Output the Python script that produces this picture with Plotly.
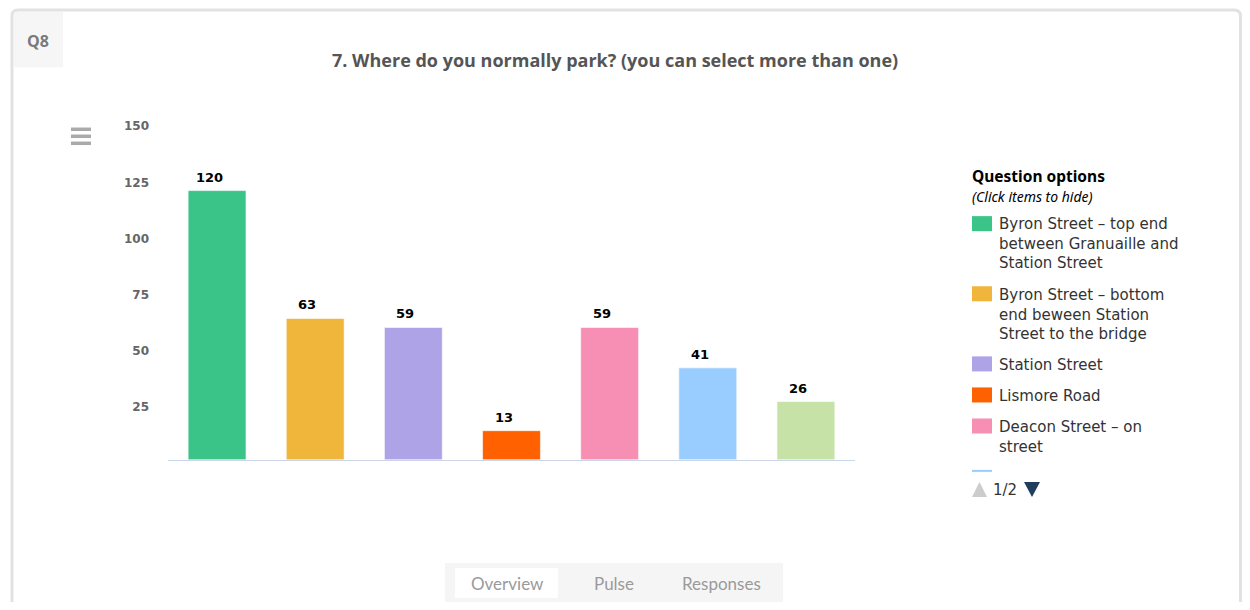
import plotly.graph_objects as go

# ---- data ----
categories = [
    "Byron Street – top end between Granuaille and Station Street",
    "Byron Street – bottom end beween Station Street to the bridge",
    "Station Street",
    "Lismore Road",
    "Deacon Street – on street",
    "Option 6",
    "Option 7",
]
legend_lines = [
    ["Byron Street – top end", "between Granuaille and", "Station Street"],
    ["Byron Street – bottom", "end beween Station", "Street to the bridge"],
    ["Station Street"],
    ["Lismore Road"],
    ["Deacon Street – on", "street"],
]
values = [120, 63, 59, 13, 59, 41, 26]
colors = ["#3BC488", "#F0B53B", "#AEA3E7", "#FF6000", "#F78FB4", "#99CCFF", "#C7E2A6"]
y_ticks = [25, 50, 75, 100, 125, 150]
title_text = "7. Where do you normally park? (you can select more than one)"
tabs = ["Overview", "Pulse", "Responses"]

# page body has an 8px margin; keep the figure inside the window so no scrollbars appear
OFF = 8
W, H = 1250 - 2 * OFF, 610 - 2 * OFF
def px(x):
    return (x - OFF) / W
def py(y):
    yc = (y - 5) / 0.9915   # mild vertical correction of the captured page
    return 1 - (yc - OFF) / H

fig = go.Figure()
for i, (c, v) in enumerate(zip(categories, values)):
    fig.add_trace(go.Bar(
        x=[c], y=[v], marker=dict(color=colors[i], line=dict(color="rgba(255,255,255,0.6)", width=1)),
        width=0.59, showlegend=False, hoverinfo="x+y",
    ))

fig.update_layout(
    width=W, height=H, margin=dict(l=0, r=0, t=0, b=0),
    paper_bgcolor="white", plot_bgcolor="white",
    barmode="overlay", bargap=0.41,
    xaxis=dict(domain=[px(168), px(855)], showticklabels=False, showgrid=False,
               showline=True, linecolor="#CCD6EB", linewidth=1, zeroline=False,
               categoryorder="array", categoryarray=categories),
    yaxis=dict(domain=[py(460), py(124)], range=[0, 150], tickvals=y_ticks,
               showgrid=False, zeroline=False, showline=False, ticks="",
               ticklabelstandoff=18, ticklabelshift=3,
               tickfont=dict(family="DejaVu Sans", size=12, color="#666666", weight="bold")),
    font=dict(family="Open Sans"),
)

shapes = []
ann = []

# value labels, placed through the axes
for c, v in zip(categories, values):
    ann.append(dict(text=str(v), x=c, y=v, xref="x", yref="y", showarrow=False,
                    xanchor="center", yanchor="bottom", xshift=-8, yshift=4,
                    font=dict(family="DejaVu Sans", size=13, color="#000000", weight="bold")))

def text(t, x, y, size, color, family="Noto Sans", xanchor="center"):
    ann.append(dict(text=t, x=px(x), y=py(y), xref="paper", yref="paper", showarrow=False,
                    xanchor=xanchor, yanchor="middle", align="left",
                    font=dict(family=family, size=size, color=color)))

# outer card
shapes.append(dict(type="path", xref="paper", yref="paper",
    path=f"M {px(12)},{py(640)} L {px(12)},{py(17)} Q {px(12)},{py(11)} {px(18)},{py(11)} "
         f"L {px(1234)},{py(11)} Q {px(1240.5)},{py(11)} {px(1240.5)},{py(17)} L {px(1240.5)},{py(640)}",
    line=dict(color="#E2E2E2", width=3), layer="below"))
# Q8 box
shapes.append(dict(type="rect", xref="paper", yref="paper", x0=px(14), x1=px(63), y0=py(68), y1=py(13),
                   fillcolor="#F6F6F6", line=dict(width=0), layer="below"))
text("<b>Q8</b>", 38, 42, 16, "#7A7A7A", family="Open Sans")
# title
text(f"<b>{title_text}</b>", 615, 61, 18, "#555555", family="Open Sans")
# hamburger icon
for yy in [130, 137, 144]:
    shapes.append(dict(type="line", xref="paper", yref="paper", x0=px(71), x1=px(91), y0=py(yy), y1=py(yy),
                       line=dict(color="#AAAAAA", width=3.5)))

# custom legend
LH = 19.5
text("<b><span style='font-size:15.5px'>Question options</span></b><br>"
     "<span style='font-size:14px'><i>(Click items to hide)</i></span>",
     970, 176.5 + LH / 2, 15, "#000000", xanchor="left")
y0 = 225
for i, lines in enumerate(legend_lines):
    shapes.append(dict(type="rect", xref="paper", yref="paper", x0=px(972), x1=px(992),
                       y0=py(y0 - 8.3), y1=py(y0 + 6.7), fillcolor=colors[i], line=dict(width=0)))
    text("<br>".join(lines), 997, y0 + (len(lines) - 1) * LH / 2, 15, "#333333",
         family="DejaVu Sans", xanchor="left")
    y0 += len(lines) * LH + 11.5
# clipped 6th item sliver
shapes.append(dict(type="rect", xref="paper", yref="paper", x0=px(972), x1=px(992),
                   y0=py(472), y1=py(470), fillcolor=colors[5], line=dict(width=0)))
# pager
shapes.append(dict(type="path", xref="paper", yref="paper",
                   path=f"M {px(972)},{py(497)} L {px(987)},{py(497)} L {px(979.5)},{py(482)} Z",
                   fillcolor="#CCCCCC", line=dict(width=0)))
shapes.append(dict(type="path", xref="paper", yref="paper",
                   path=f"M {px(1024)},{py(482)} L {px(1040)},{py(482)} L {px(1032)},{py(497)} Z",
                   fillcolor="#1F3D5C", line=dict(width=0)))
text("1/2", 1005, 490, 15, "#333333", family="DejaVu Sans")

# bottom tabs
shapes.append(dict(type="rect", xref="paper", yref="paper", x0=px(445), x1=px(783), y0=py(602), y1=py(563),
                   fillcolor="#F5F5F5", line=dict(width=0), layer="below"))
shapes.append(dict(type="rect", xref="paper", yref="paper", x0=px(455), x1=px(558), y0=py(598), y1=py(568),
                   fillcolor="#FFFFFF", line=dict(width=0), layer="below"))
for t, cx in zip(tabs, [507, 614, 721]):
    text(t, cx, 583, 17, "#9A9A9A", family="Lato")

fig.update_layout(shapes=shapes, annotations=ann)
fig.write_html("out.html")
